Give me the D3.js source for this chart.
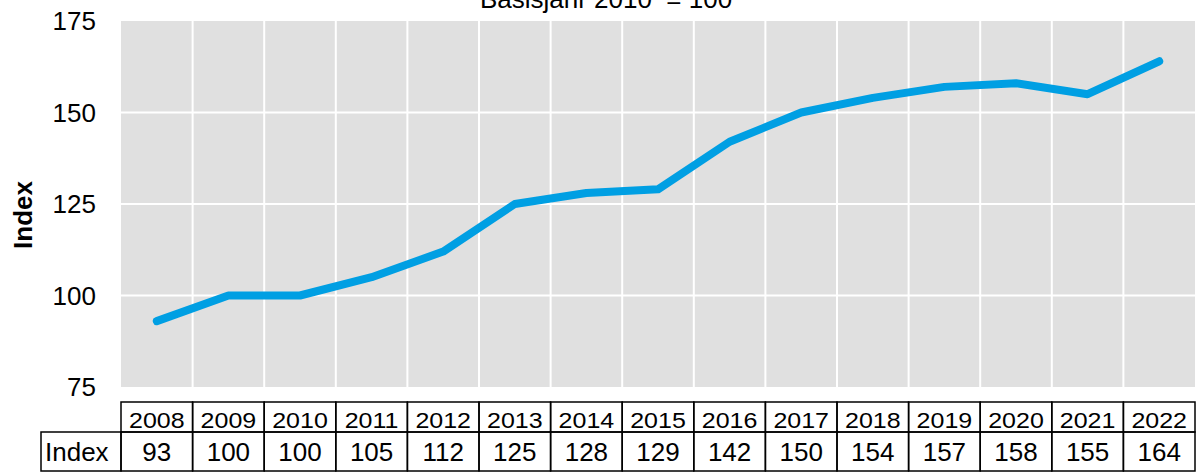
<!DOCTYPE html>
<html>
<head>
<meta charset="utf-8">
<script src="https://cdn.jsdelivr.net/npm/d3@7"></script>
<style>
  body { margin: 0; background: #fff; }
  text { font-family: "Liberation Sans", Arial, sans-serif; fill: #000; }
</style>
</head>
<body>
<div id="chart"></div>
<script>
// data
var years = ["2008", "2009", "2010", "2011", "2012", "2013", "2014", "2015", "2016", "2017", "2018", "2019", "2020", "2021", "2022"];
var indexValues = [93, 100, 100, 105, 112, 125, 128, 129, 142, 150, 154, 157, 158, 155, 164];
var yTicks = [75, 100, 125, 150, 175];
var rowLabel = "Index";
var subtitle = "Basisjahr 2010  = 100";

var width = 1202, height = 473;
var plot = { left: 121, right: 1195, top: 21, bottom: 387 };

var svg = d3.select("#chart").append("svg")
  .attr("width", width)
  .attr("height", height);

var x = d3.scaleBand().domain(years).range([plot.left, plot.right]);
var y = d3.scaleLinear().domain([75, 175]).range([plot.bottom, plot.top]);

// grey plot background
svg.append("rect")
  .attr("x", plot.left).attr("y", plot.top)
  .attr("width", plot.right - plot.left).attr("height", plot.bottom - plot.top)
  .attr("fill", "#e0e0e0");

// horizontal gridlines
svg.selectAll(".hgrid")
  .data(yTicks.slice(1, -1))
  .enter().append("line")
  .attr("x1", plot.left).attr("x2", plot.right)
  .attr("y1", function(d) { return y(d); }).attr("y2", function(d) { return y(d); })
  .attr("stroke", "#fff").attr("stroke-width", 2);

// vertical gridlines between categories
svg.selectAll(".vgrid")
  .data(years.slice(1))
  .enter().append("line")
  .attr("x1", function(d) { return x(d); }).attr("x2", function(d) { return x(d); })
  .attr("y1", plot.top).attr("y2", plot.bottom)
  .attr("stroke", "#fff").attr("stroke-width", 2);

// y axis labels
svg.selectAll(".ytick")
  .data(yTicks)
  .enter().append("text")
  .attr("x", 96)
  .attr("y", function(d) { return y(d); })
  .attr("dy", "0.36em")
  .attr("text-anchor", "end")
  .style("font-size", "26px")
  .text(function(d) { return d; });

// y axis title
svg.append("text")
  .attr("transform", "translate(32," + 215 + ") rotate(-90)")
  .attr("text-anchor", "middle")
  .style("font-size", "26px")
  .style("font-weight", "bold")
  .text("Index");

// subtitle, cut by the top edge
svg.append("text")
  .attr("x", 606).attr("y", 8)
  .attr("text-anchor", "middle")
  .style("font-size", "26px")
  .style("white-space", "pre")
  .text(subtitle);

// the line
var line = d3.line()
  .x(function(d, i) { return x(years[i]) + x.bandwidth() / 2; })
  .y(function(d) { return y(d); });

svg.append("path")
  .datum(indexValues)
  .attr("d", line)
  .attr("fill", "none")
  .attr("stroke", "#009fe3")
  .attr("stroke-width", 8)
  .attr("stroke-linejoin", "round")
  .attr("stroke-linecap", "round");

// data table
var row1 = { top: 402, bottom: 432 };
var row2 = { top: 432, bottom: 471 };
var labelLeft = 41;
var tbl = svg.append("g").attr("class", "table");

// header cells (years), text a bit squashed vertically as in the source
tbl.selectAll(".hcell")
  .data(years)
  .enter().append("rect")
  .attr("x", function(d) { return x(d); })
  .attr("y", row1.top)
  .attr("width", x.bandwidth())
  .attr("height", row1.bottom - row1.top)
  .attr("fill", "none").attr("stroke", "#000").attr("stroke-width", 1.5);

tbl.selectAll(".htext")
  .data(years)
  .enter().append("text")
  .attr("transform", function(d) {
    return "translate(" + (x(d) + x.bandwidth() / 2) + "," + 427.5 + ") scale(1,0.85)";
  })
  .attr("text-anchor", "middle")
  .style("font-size", "25px")
  .text(function(d) { return d; });

// value cells
tbl.append("rect")
  .attr("x", labelLeft).attr("y", row2.top)
  .attr("width", plot.left - labelLeft).attr("height", row2.bottom - row2.top)
  .attr("fill", "none").attr("stroke", "#000").attr("stroke-width", 1.5);

tbl.append("text")
  .attr("x", labelLeft + 4)
  .attr("y", (row2.top + row2.bottom) / 2)
  .attr("dy", "0.36em")
  .style("font-size", "26px")
  .text(rowLabel);

tbl.selectAll(".vcell")
  .data(indexValues)
  .enter().append("rect")
  .attr("x", function(d, i) { return x(years[i]); })
  .attr("y", row2.top)
  .attr("width", x.bandwidth())
  .attr("height", row2.bottom - row2.top)
  .attr("fill", "none").attr("stroke", "#000").attr("stroke-width", 1.5);

tbl.selectAll(".vtext")
  .data(indexValues)
  .enter().append("text")
  .attr("x", function(d, i) { return x(years[i]) + x.bandwidth() / 2; })
  .attr("y", (row2.top + row2.bottom) / 2)
  .attr("dy", "0.36em")
  .attr("text-anchor", "middle")
  .style("font-size", "26px")
  .text(function(d) { return d; });
</script>
</body>
</html>
